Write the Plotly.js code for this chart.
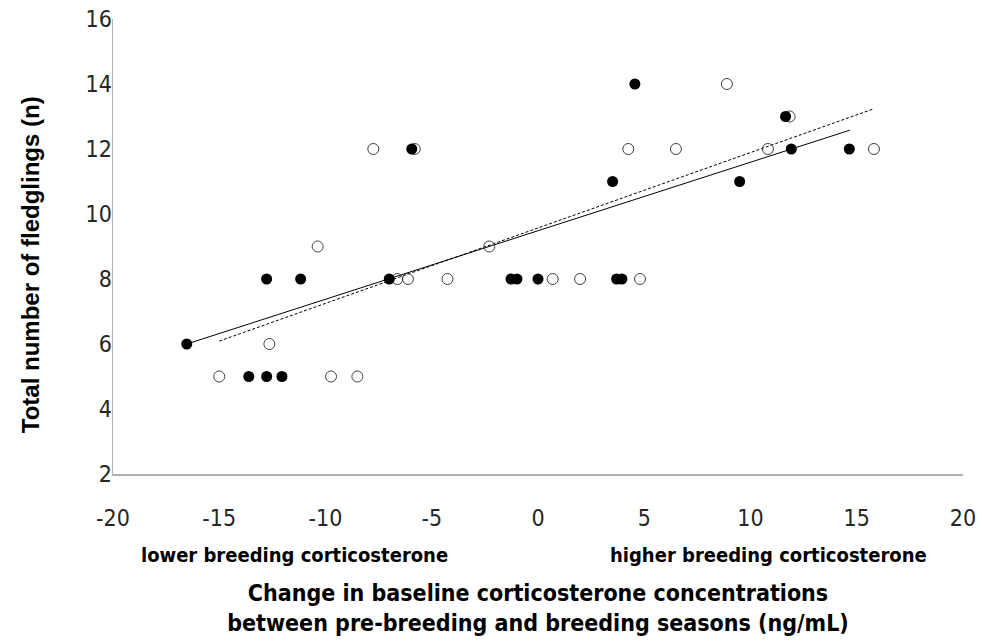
<!DOCTYPE html>
<html>
<head>
<meta charset="utf-8">
<script src="https://cdn.plot.ly/plotly-3.0.1.min.js"></script>
<style>
  html, body { margin: 0; padding: 0; background: #ffffff; }
  #chart { width: 982px; height: 643px; }
</style>
</head>
<body>
<div id="chart"></div>
<script>
// Filled circles series
var filledX = [-16.53, -13.61, -12.77, -12.05, -12.77, -11.17, -7.0, -5.94, -1.27, -0.99, 0.0, 3.51, 3.70, 3.95, 4.56, 9.49, 11.65, 11.92, 14.65];
var filledY = [6, 5, 5, 5, 8, 8, 8, 12, 8, 8, 8, 11, 8, 8, 14, 11, 13, 12, 12];
// Open circles series
var openX = [-15.0, -12.64, -10.37, -9.74, -8.5, -7.75, -6.62, -6.12, -5.8, -4.26, -2.29, 0.69, 1.98, 4.25, 4.8, 6.49, 8.89, 10.82, 11.84, 15.81];
var openY = [5, 6, 9, 5, 5, 12, 8, 8, 12, 8, 9, 8, 8, 12, 8, 12, 14, 12, 13, 12];
// Linear trendlines (endpoints)
var solidTrendX = [-16.53, 14.68];
var solidTrendY = [6.0, 12.58];
var dashedTrendX = [-15.0, 15.73];
var dashedTrendY = [6.09, 13.22];
// Axis ticks and texts
var xTicks = [-20, -15, -10, -5, 0, 5, 10, 15, 20];
var yTicks = [2, 4, 6, 8, 10, 12, 14, 16];
var xTitle = 'Change in baseline corticosterone concentrations<br>between pre-breeding and breeding seasons (ng/mL)';
var yTitle = 'Total number of fledglings (n)';
var lowerLabel = 'lower breeding corticosterone';
var higherLabel = 'higher breeding corticosterone';

var narrow = '"Liberation Sans Narrow", "DejaVu Sans Condensed", "Arial Narrow", sans-serif';

var traces = [
  { x: solidTrendX, y: solidTrendY, mode: 'lines', type: 'scatter',
    line: { color: '#000000', width: 1 }, hoverinfo: 'skip', showlegend: false },
  { x: dashedTrendX, y: dashedTrendY, mode: 'lines', type: 'scatter',
    line: { color: '#000000', width: 1, dash: '3px,2px' }, hoverinfo: 'skip', showlegend: false },
  { x: openX, y: openY, mode: 'markers', type: 'scatter', showlegend: false,
    marker: { symbol: 'circle-open', size: 11, color: '#404040', line: { width: 1, color: '#404040' } } },
  { x: filledX, y: filledY, mode: 'markers', type: 'scatter', showlegend: false,
    marker: { symbol: 'circle', size: 11, color: '#000000', line: { width: 0 } } }
];

var layout = {
  width: 982, height: 643,
  margin: { l: 113, r: 19, t: 19, b: 169 },
  paper_bgcolor: '#ffffff', plot_bgcolor: '#ffffff',
  showlegend: false,
  font: { family: narrow, color: '#262626' },
  xaxis: {
    range: [-20, 20], tickvals: xTicks, ticktext: xTicks.map(String),
    showgrid: false, zeroline: false, showline: true, linecolor: '#b0b0b0', linewidth: 1.5,
    ticks: '', ticklabelstandoff: 23,
    tickfont: { family: narrow, size: 23, color: '#262626' },
    title: { text: xTitle, standoff: 55, font: { family: narrow, size: 23, color: '#000000', weight: 'bold' } },
    automargin: false
  },
  yaxis: {
    range: [2, 16], tickvals: yTicks, ticktext: yTicks.map(String),
    showgrid: false, zeroline: false, showline: true, linecolor: '#b0b0b0', linewidth: 1.5,
    ticks: '', ticklabelstandoff: -5,
    tickfont: { family: narrow, size: 23, color: '#262626' },
    automargin: false
  },
  annotations: [
    { text: yTitle, xref: 'paper', yref: 'paper', x: -0.0976, y: 0.459, textangle: -90, showarrow: false,
      xanchor: 'center', yanchor: 'middle', font: { family: 'Liberation Sans, Arial, sans-serif', size: 24, color: '#000000', weight: 'bold' } },
    { text: lowerLabel, xref: 'x', yref: 'paper', x: -11.48, y: -0.178, showarrow: false,
      xanchor: 'center', yanchor: 'middle', font: { family: narrow, size: 20, color: '#000000', weight: 'bold' } },
    { text: higherLabel, xref: 'x', yref: 'paper', x: 10.87, y: -0.178, showarrow: false,
      xanchor: 'center', yanchor: 'middle', font: { family: narrow, size: 20, color: '#000000', weight: 'bold' } }
  ]
};

Plotly.newPlot('chart', traces, layout, { staticPlot: true, displayModeBar: false });
</script>
</body>
</html>
